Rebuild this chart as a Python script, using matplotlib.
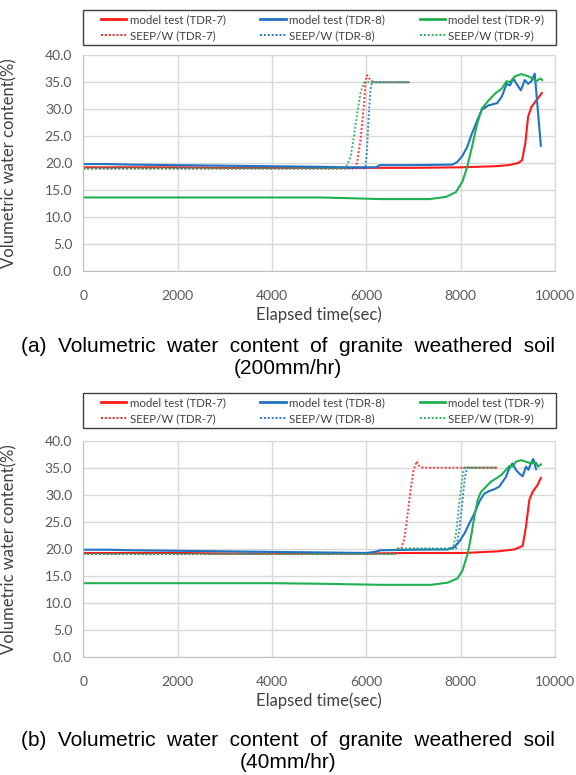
import matplotlib
matplotlib.use('Agg')
import matplotlib.pyplot as plt
from matplotlib.lines import Line2D
from matplotlib.patches import Rectangle

# (a) 200mm/hr
a_mt7_t = [0, 1000, 2000, 3000, 4000, 5000, 6000, 7000, 8000, 8730, 9010, 9220, 9300, 9370, 9430, 9500, 9600, 9690, 9720]
a_mt7_v = [19.2, 19.2, 19.2, 19.1, 19.1, 19.1, 19.1, 19.1, 19.2, 19.4, 19.6, 20.0, 20.5, 23.6, 28.6, 30.4, 31.6, 32.6, 33.0]
a_mt8_t = [0, 500, 1000, 2000, 3000, 4000, 5000, 5600, 6200, 6290, 7000, 7826, 7930, 8035, 8140, 8240, 8350, 8450,
           8590, 8770, 8870, 8975, 9045, 9115, 9185, 9275, 9360, 9430, 9500, 9570, 9700]
a_mt8_v = [19.8, 19.8, 19.7, 19.6, 19.5, 19.4, 19.3, 19.2, 19.2, 19.6, 19.6, 19.7, 20.2, 21.3, 23.0, 25.5, 27.9, 29.9,
           30.7, 31.1, 32.3, 34.7, 34.4, 35.7, 34.7, 33.5, 35.4, 34.7, 35.2, 36.6, 23.2]
a_mt9_t = [0, 1000, 2000, 3000, 4000, 5000, 5500, 6290, 7340, 7690, 7900, 8035, 8140, 8240, 8350, 8450, 8590, 8730,
           8870, 8975, 9045, 9150, 9290, 9430, 9530, 9600, 9690, 9730]
a_mt9_v = [13.6, 13.6, 13.6, 13.6, 13.6, 13.6, 13.5, 13.3, 13.3, 13.7, 14.6, 16.5, 19.3, 23.0, 27.3, 30.1, 31.6, 32.9,
           33.8, 35.2, 35.0, 36.1, 36.5, 36.1, 35.7, 35.2, 35.7, 35.4]
a_sw7_t = [0, 5770, 5805, 5875, 5945, 5985, 6015, 6085, 6150, 6920]
a_sw7_v = [19.0, 19.0, 20.2, 24.2, 30.4, 35.4, 36.3, 35.4, 35.0, 35.0]
a_sw8_t = [0, 5980, 6015, 6050, 6085, 6120, 6920]
a_sw8_v = [19.0, 19.0, 22.4, 28.6, 33.5, 35.0, 35.0]
a_sw9_t = [0, 5560, 5665, 5735, 5805, 5875, 5945, 6000, 6920]
a_sw9_v = [19.0, 19.0, 21.1, 24.8, 29.2, 32.9, 34.9, 35.0, 35.0]

# (b) 40mm/hr
b_mt7_t = [0, 1000, 2000, 3000, 4000, 5000, 6000, 7000, 8080, 8785, 9140, 9315, 9385, 9455, 9525, 9630, 9700]
b_mt7_v = [19.2, 19.2, 19.2, 19.1, 19.1, 19.1, 19.1, 19.2, 19.2, 19.5, 19.85, 20.5, 24.1, 29.0, 30.5, 31.8, 33.1]
b_mt8_t = [0, 500, 1000, 2000, 3000, 4000, 5000, 6000, 6170, 6310, 7000, 7725, 7866, 7970, 8080, 8185, 8290, 8395,
           8500, 8610, 8715, 8820, 8890, 8960, 9030, 9100, 9170, 9245, 9315, 9385, 9435, 9490, 9540, 9600]
b_mt8_v = [19.8, 19.8, 19.7, 19.6, 19.5, 19.4, 19.3, 19.2, 19.4, 19.7, 19.8, 19.85, 20.3, 21.3, 22.8, 24.7, 26.5, 28.7,
           30.2, 30.7, 31.0, 31.5, 32.4, 33.3, 34.9, 35.8, 34.6, 33.9, 33.4, 35.2, 34.6, 35.8, 36.6, 34.7]
b_mt9_t = [0, 1000, 2000, 3000, 4000, 5000, 6310, 7370, 7725, 7935, 8040, 8150, 8220, 8290, 8360, 8430, 8540, 8640,
           8750, 8855, 8960, 9030, 9100, 9170, 9280, 9385, 9490, 9600, 9640, 9700]
b_mt9_v = [13.6, 13.6, 13.6, 13.6, 13.6, 13.5, 13.3, 13.3, 13.7, 14.5, 16.0, 19.1, 22.2, 25.9, 29.0, 30.5, 31.5, 32.4,
           33.0, 33.6, 34.6, 35.3, 35.2, 36.1, 36.4, 36.1, 35.8, 35.9, 35.2, 35.6]
b_sw7_t = [0, 6610, 6620, 6740, 6800, 6870, 6940, 7000, 7068, 7130, 7200, 8770]
b_sw7_v = [19.0, 19.0, 20.0, 20.0, 21.6, 26.0, 31.0, 34.5, 36.2, 35.2, 35.0, 35.0]
b_sw8_t = [0, 6610, 6620, 7900, 7970, 8040, 8090, 8135, 8770]
b_sw8_v = [19.0, 19.0, 20.0, 20.0, 23.4, 29.0, 33.3, 35.0, 35.0]
b_sw9_t = [0, 6610, 6620, 7840, 7900, 7970, 8040, 8070, 8770]
b_sw9_v = [19.0, 19.0, 20.0, 20.0, 22.8, 28.4, 33.3, 35.0, 35.0]

labels = ['model test (TDR-7)', 'SEEP/W (TDR-7)', 'model test (TDR-8)', 'SEEP/W (TDR-8)',
          'model test (TDR-9)', 'SEEP/W (TDR-9)']
captions = ['(a)  Volumetric  water  content  of  granite  weathered  soil\n(200mm/hr)',
            '(b)  Volumetric  water  content  of  granite  weathered  soil\n(40mm/hr)']

RED = '#ff1a1a'
BLUE = '#1f73c4'
GREEN = '#1fb050'
colors = [RED, RED, BLUE, BLUE, GREEN, GREEN]
styles = ['-', ':', '-', ':', '-', ':']

fig = plt.figure(figsize=(5.76, 7.75), dpi=100)
W, H = 576, 775


def panel(top_px, bot_px, leg_top, leg_bot, series, caption, cap_y):
    ax = fig.add_axes([83.3 / W, 1 - bot_px / H, (555 - 83.3) / W, (bot_px - top_px) / H])
    for (t, v), c, ls in zip(series, colors, styles):
        if ls == '-':
            ax.plot(t, v, color=c, lw=1.5, solid_joinstyle='round')
        else:
            ax.plot(t, v, color=c, lw=1.4, ls=(0, (1, 1)), alpha=0.85)
    ax.set_xlim(0, 10000)
    ax.set_ylim(0, 40)
    ax.set_xticks(range(0, 10001, 2000))
    ax.set_yticks([i * 5 for i in range(9)])
    ax.set_yticklabels(['%.1f' % (i * 5) for i in range(9)])
    ax.grid(True, color='#d9d9d9', lw=1)
    ax.set_axisbelow(True)
    for s in ax.spines.values():
        s.set_color('#d9d9d9')
    ax.spines['left'].set_color('#bfbfbf')
    ax.spines['bottom'].set_color('#bfbfbf')
    ax.tick_params(length=0, labelsize=10, labelcolor='#595959')
    ax.tick_params(axis='y', pad=8)
    ax.tick_params(axis='x', pad=14)
    for lab in ax.get_xticklabels() + ax.get_yticklabels():
        lab.set_family('Lato')
    ax.set_xlabel('Elapsed time(sec)', family='Lato', fontsize=12, color='#404040', labelpad=3)
    ax.set_ylabel('Volumetric water content(%)', family='Lato', fontsize=12, color='#404040')
    ax.yaxis.set_label_coords((17 - 83.3) / (555 - 83.3), 0.5)

    # legend
    handles = [Line2D([], [], color=c, lw=2 if ls == '-' else 1.4, ls='-' if ls == '-' else (0, (1, 1)))
               for c, ls in zip(colors, styles)]
    fig.add_artist(Rectangle((83.3 / W, 1 - leg_bot / H), (556 - 83.3) / W, (leg_bot - leg_top) / H,
                             transform=fig.transFigure, fill=False, edgecolor='#404040', lw=1))
    fig.legend(handles, labels, ncol=3, loc='center',
               bbox_to_anchor=((83.3 + 556) / 2 / W + 3 / W, 1 - (leg_top + leg_bot) / 2 / H),
               frameon=False, prop={'family': 'Lato', 'size': 8.3}, labelcolor='#404040',
               handlelength=2.2, handletextpad=0.3, columnspacing=3.0, labelspacing=0.4)
    fig.text(0.5, 1 - cap_y / H, caption, ha='center', va='center', fontsize=15,
             family='Liberation Sans', color='black', linespacing=1.2)
    return ax


panel(55.3, 270.7, 10, 45,
      [(a_mt7_t, a_mt7_v), (a_sw7_t, a_sw7_v), (a_mt8_t, a_mt8_v), (a_sw8_t, a_sw8_v),
       (a_mt9_t, a_mt9_v), (a_sw9_t, a_sw9_v)], captions[0], 357)
panel(440.7, 656.6, 393, 428,
      [(b_mt7_t, b_mt7_v), (b_sw7_t, b_sw7_v), (b_mt8_t, b_mt8_v), (b_sw8_t, b_sw8_v),
       (b_mt9_t, b_mt9_v), (b_sw9_t, b_sw9_v)], captions[1], 751)

fig.savefig('out.png', dpi=100)
